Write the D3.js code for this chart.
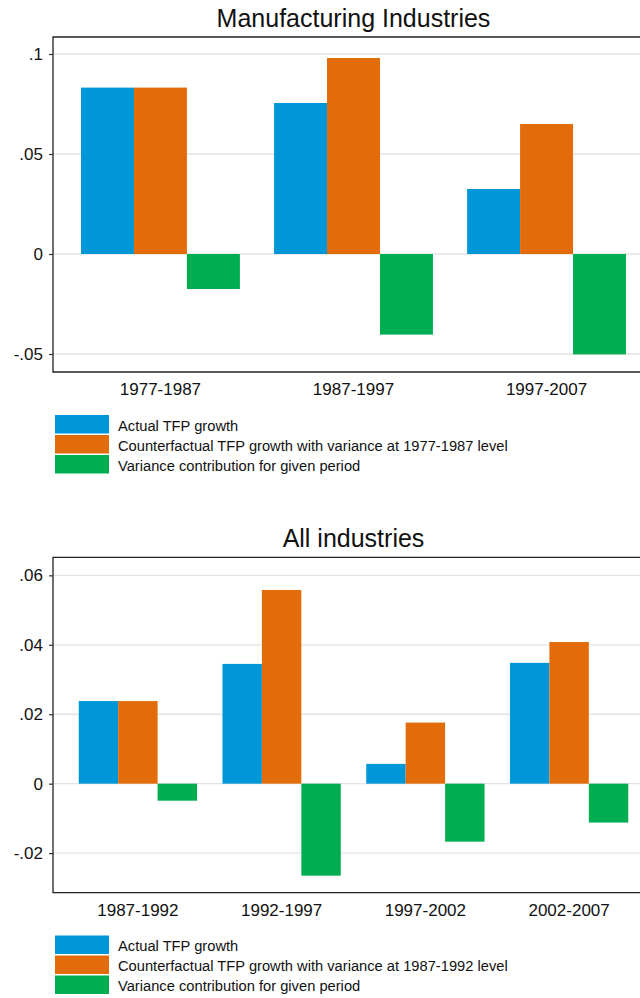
<!DOCTYPE html>
<html>
<head>
<meta charset="utf-8">
<script src="https://cdn.jsdelivr.net/npm/d3@7"></script>
<style>
  body { margin: 0; background: #fff; }
  svg { display: block; font-family: "Liberation Sans", Arial, Helvetica, sans-serif; }
</style>
</head>
<body>
<div id="vis"></div>
<script>
// values
const seriesNames = ["actual", "counterfactual", "variance"];
const seriesColors = ["#0097d8", "#e36c0a", "#00ae51"];

const mfgPeriods = ["1977-1987", "1987-1997", "1997-2007"];
const mfgActual = [0.0832, 0.0755, 0.0325];
const mfgCounterfactual = [0.0832, 0.0980, 0.0650];
const mfgVariance = [-0.0175, -0.0403, -0.0502];
const mfgTicks = [-0.05, 0, 0.05, 0.1];
const mfgLegend = ["Actual TFP growth",
    "Counterfactual TFP growth with variance at 1977-1987 level",
    "Variance contribution for given period"];

const allPeriods = ["1987-1992", "1992-1997", "1997-2002", "2002-2007"];
const allActual = [0.0238, 0.0345, 0.0057, 0.0348];
const allCounterfactual = [0.0238, 0.0558, 0.0176, 0.0408];
const allVariance = [-0.0049, -0.0265, -0.0167, -0.0112];
const allTicks = [-0.02, 0, 0.02, 0.04, 0.06];
const allLegend = ["Actual TFP growth",
    "Counterfactual TFP growth with variance at 1987-1992 level",
    "Variance contribution for given period"];

const width = 640, height = 998;

const svg = d3.select("#vis").append("svg")
    .attr("width", width)
    .attr("height", height);

// stata style tick labels: .05, -.05, 0
const fmt = v => v === 0 ? "0" : String(+v.toFixed(4)).replace(/^(-?)0\./, "$1.");

function drawPanel(p) {
    const rows = p.periods.map((period, i) => ({
        period: period,
        actual: p.actual[i],
        counterfactual: p.counterfactual[i],
        variance: p.variance[i]
    }));

    const x = d3.scaleBand()
        .domain(p.periods)
        .range([p.left, p.right])
        .paddingInner(0.177)
        .paddingOuter(p.outer);

    const xs = d3.scaleBand()
        .domain(seriesNames)
        .range([0, x.bandwidth()]);

    const y = d3.scaleLinear()
        .domain(p.domain)
        .range([p.bottom, p.top]);

    const g = svg.append("g");

    g.append("text")
        .attr("x", (p.left + p.right) / 2)
        .attr("y", p.titleY)
        .attr("text-anchor", "middle")
        .style("font-size", "25px")
        .attr("fill", "#111")
        .text(p.title);

    // gridlines
    g.append("g")
        .selectAll("line")
        .data(p.ticks)
        .join("line")
        .attr("x1", p.left)
        .attr("x2", p.right)
        .attr("y1", d => y(d))
        .attr("y2", d => y(d))
        .attr("stroke", "#e3e3e3")
        .attr("stroke-width", 1.3);

    // bars
    g.append("g")
        .selectAll("g")
        .data(rows)
        .join("g")
        .attr("transform", d => `translate(${x(d.period)},0)`)
        .selectAll("rect")
        .data(d => seriesNames.map((s, i) => ({ key: s, value: d[s], color: seriesColors[i] })))
        .join("rect")
        .attr("x", d => xs(d.key))
        .attr("width", xs.bandwidth())
        .attr("y", d => y(Math.max(0, d.value)))
        .attr("height", d => Math.abs(y(d.value) - y(0)))
        .attr("fill", d => d.color);

    // y axis
    const yAxis = g.append("g")
        .attr("transform", `translate(${p.left},0)`)
        .call(d3.axisLeft(y).tickValues(p.ticks).tickFormat(fmt).tickSize(4).tickPadding(6));
    yAxis.select(".domain").remove();
    yAxis.selectAll(".tick line").attr("stroke", "#333").attr("stroke-width", 1.2);
    yAxis.selectAll(".tick text")
        .style("font-size", "17px")
        .style("font-family", "inherit")
        .attr("fill", "#111");

    // x labels
    g.append("g")
        .selectAll("text")
        .data(p.periods)
        .join("text")
        .attr("x", d => x(d) + x.bandwidth() / 2)
        .attr("y", p.bottom + 23)
        .attr("text-anchor", "middle")
        .style("font-size", "17px")
        .attr("fill", "#111")
        .text(d => d);

    // frame: top, left, bottom
    g.append("path")
        .attr("d", `M${p.right},${p.top}H${p.left}V${p.bottom}H${p.right}`)
        .attr("fill", "none")
        .attr("stroke", "#222")
        .attr("stroke-width", 1.3);

    // legend
    const leg = g.append("g")
        .selectAll("g")
        .data(p.legend)
        .join("g")
        .attr("transform", (d, i) => `translate(55,${p.legendY + i * 20})`);
    leg.append("rect")
        .attr("width", 54)
        .attr("height", 18.5)
        .attr("fill", (d, i) => seriesColors[i]);
    leg.append("text")
        .attr("x", 63)
        .attr("y", 15.5)
        .style("font-size", "14.7px")
        .attr("fill", "#111")
        .text(d => d);
}

drawPanel({
    title: "Manufacturing Industries",
    periods: mfgPeriods,
    actual: mfgActual,
    counterfactual: mfgCounterfactual,
    variance: mfgVariance,
    ticks: mfgTicks,
    legend: mfgLegend,
    domain: [-0.059, 0.1085],
    left: 53, right: 654, top: 37, bottom: 372,
    outer: 0.145,
    titleY: 27,
    legendY: 415
});

drawPanel({
    title: "All industries",
    periods: allPeriods,
    actual: allActual,
    counterfactual: allCounterfactual,
    variance: allVariance,
    ticks: allTicks,
    legend: allLegend,
    domain: [-0.0314, 0.0652],
    left: 53, right: 654, top: 557.3, bottom: 892.7,
    outer: 0.179,
    titleY: 547.3,
    legendY: 935.5
});
</script>
</body>
</html>
